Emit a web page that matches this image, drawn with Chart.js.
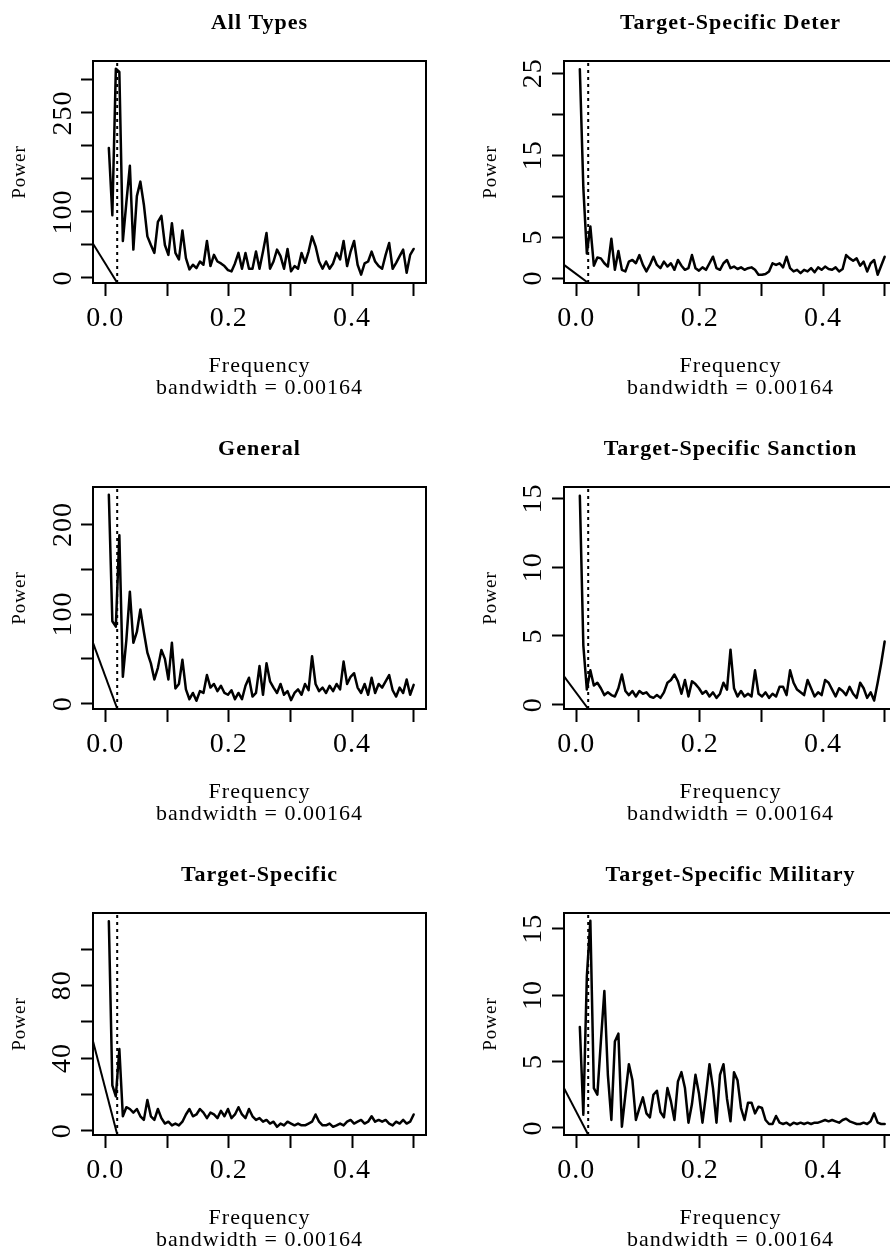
<!DOCTYPE html>
<html>
<head>
<meta charset="utf-8">
<script src="https://cdn.jsdelivr.net/npm/chart.js@4.4.1/dist/chart.umd.min.js"></script>
<style>
html, body { margin: 0; padding: 0; background: #ffffff; width: 890px; height: 1252px; overflow: hidden; }
#wrap { position: relative; width: 890px; height: 1252px; overflow: hidden; background: #ffffff; }
#wrap canvas { position: absolute; }
</style>
</head>
<body>
<div id="wrap"></div>
<script>
// ---------------- DATA ----------------
const N_OBS = 176; // bandwidth = sqrt(1/12)/N = 0.00164
const frequency = Array.from({ length: 88 }, (_, i) => (i + 1) / N_OBS);

const panelTitles = ['All Types', 'Target-Specific Deter', 'General', 'Target-Specific Sanction', 'Target-Specific', 'Target-Specific Military'];

const allTypes = [197, 95, 317, 312, 56, 114, 170, 43, 124, 146,
  111, 63, 50, 38, 85, 94, 50, 35, 83, 38,
  28, 72, 30, 13, 20, 15, 25, 20, 56, 18,
  35, 25, 22, 18, 12, 10, 22, 38, 14, 38,
  14, 14, 40, 14, 40, 68, 14, 25, 43, 33,
  14, 44, 10, 18, 14, 38, 23, 40, 63, 48,
  25, 14, 25, 14, 22, 38, 28, 56, 18, 40,
  56, 20, 5, 22, 25, 40, 25, 18, 14, 35,
  53, 14, 23, 33, 43, 8, 35, 44];

const targetDeter = [25.5, 11, 3.0, 6.3, 1.5, 2.5, 2.4, 1.8, 1.4, 4.8,
  1.0, 3.3, 1.0, 0.8, 2.0, 2.2, 1.8, 2.8, 1.6, 0.8,
  1.6, 2.6, 1.6, 1.2, 2.0, 1.4, 1.8, 1.0, 2.2, 1.5,
  1.0, 1.2, 2.8, 1.2, 0.9, 1.3, 1.0, 1.8, 2.6, 1.2,
  1.0, 1.8, 2.2, 1.2, 1.4, 1.1, 1.3, 1.0, 1.2, 1.3,
  1.0, 0.4, 0.4, 0.5, 0.8, 1.8, 1.6, 1.8, 1.3, 2.6,
  1.2, 0.8, 1.0, 0.6, 1.0, 0.8, 1.2, 0.7, 1.3, 1.0,
  1.4, 1.1, 1.0, 1.3, 0.8, 1.1, 2.8, 2.4, 2.1, 2.4,
  1.5, 2.0, 0.8, 1.8, 2.2, 0.4, 1.5, 2.6];

const general = [233, 92, 86, 188, 30, 71, 125, 68, 80, 105,
  80, 57, 45, 27, 40, 60, 50, 27, 68, 17,
  22, 49, 16, 5, 12, 3.3, 14, 12, 32, 18,
  22, 14, 20, 12, 10, 15, 5, 12, 5, 20,
  29, 8, 12, 42, 10, 45, 25, 18, 12, 22,
  10, 14, 4, 12, 16, 10, 22, 15, 53, 22,
  14, 18, 12, 20, 14, 22, 16, 47, 22, 30,
  34, 18, 12, 22, 10, 29, 12, 22, 18, 25,
  32, 15, 8, 18, 12, 27, 10, 21];

const targetSanction = [15.2, 4.3, 1.1, 2.5, 1.4, 1.6, 1.2, 0.7, 0.9, 0.7,
  0.6, 1.2, 2.2, 1.0, 0.7, 1.0, 0.6, 1.0, 0.8, 0.9,
  0.6, 0.5, 0.7, 0.5, 0.9, 1.6, 1.8, 2.2, 1.7, 0.8,
  1.8, 0.6, 1.7, 1.5, 1.2, 0.8, 1.0, 0.6, 0.9, 0.5,
  0.8, 1.6, 1.1, 4.0, 1.2, 0.6, 1.0, 0.6, 0.8, 0.6,
  2.5, 0.8, 0.6, 0.9, 0.5, 0.8, 0.6, 1.3, 1.3, 0.7,
  2.5, 1.6, 1.1, 0.9, 0.7, 1.8, 1.2, 0.6, 0.9, 0.7,
  1.8, 1.6, 1.1, 0.6, 1.2, 1.0, 0.7, 1.3, 0.8, 0.5,
  1.6, 1.2, 0.5, 0.9, 0.3, 1.6, 3.0, 4.6];

const targetSpecific = [115.3, 25, 19, 45, 8, 13, 12, 10, 12, 8,
  6, 17, 8, 6, 12, 7, 4, 5, 3, 4,
  3, 5, 9, 12, 8, 9, 12, 10, 7, 10,
  9, 7, 11, 8, 12, 7, 9, 13, 9, 7,
  12, 8, 6, 7, 5, 6, 4, 5, 2.2, 4,
  3, 5, 4, 3, 4, 3, 3, 4, 5, 9,
  5, 3, 3, 4, 2.2, 3, 4, 3, 5, 6,
  4, 5, 6, 4, 5, 8, 5, 6, 5, 6,
  4, 3, 5, 4, 6, 4, 5, 9];

const targetMilitary = [7.6, 1.0, 11.4, 15.6, 3.0, 2.5, 6.5, 10.3, 4.0, 0.6,
  6.5, 7.1, 0.1, 2.5, 4.8, 3.6, 0.6, 1.5, 2.3, 1.1,
  0.8, 2.5, 2.8, 1.2, 0.8, 3.0, 2.0, 0.6, 3.5, 4.2,
  3.0, 0.4, 1.8, 4.0, 2.6, 0.4, 2.5, 4.8, 3.0, 0.4,
  4.0, 4.8, 2.2, 0.5, 4.2, 3.6, 1.5, 0.6, 1.9, 1.9,
  1.1, 1.6, 1.5, 0.6, 0.3, 0.3, 0.9, 0.4, 0.3, 0.4,
  0.2, 0.4, 0.3, 0.4, 0.3, 0.4, 0.3, 0.4, 0.4, 0.5,
  0.6, 0.5, 0.6, 0.5, 0.4, 0.6, 0.7, 0.5, 0.4, 0.3,
  0.3, 0.4, 0.3, 0.5, 1.1, 0.4, 0.3, 0.3];

const spectra = [allTypes, targetDeter, general, targetSanction, targetSpecific, targetMilitary];

// axis ranges (data units)
const xRange = [-0.02, 0.52];
const yMinValues = [-7.6, -0.61, -5.9, -0.31, -2.3, -0.53];
const yMaxValues = [328.7, 26.5, 241.7, 15.83, 119.8, 16.18];

// tick values and labels
const xTickValues = [0, 0.1, 0.2, 0.3, 0.4, 0.5];
const xTickLabels = ['0.0', '', '0.2', '', '0.4', ''];
const yTickValues = [
  [0, 50, 100, 150, 200, 250, 300],
  [0, 5, 10, 15, 20, 25],
  [0, 50, 100, 150, 200],
  [0, 5, 10, 15],
  [0, 20, 40, 60, 80, 100],
  [0, 5, 10, 15]
];
const yTickLabels = [
  ['0', '', '100', '', '', '250', ''],
  ['0', '5', '', '15', '', '25'],
  ['0', '', '100', '', '200'],
  ['0', '5', '10', '15'],
  ['0', '', '40', '', '80', ''],
  ['0', '5', '10', '15']
];

// reference lines
const seasonalFreq = 1 / 52;                 // dotted vertical line
const diagonalStart = [52, 1.6, 68, 2.06, 49.3, 3.0]; // value at left edge
const diagonalEndFreq = 0.0195;

const xAxisTitle = ['Frequency', 'bandwidth = 0.00164'];
const yAxisTitle = 'Power';

// ---------------- LAYOUT ----------------
const SERIF = '"Liberation Serif", "Times New Roman", serif';
const BOX_LEFT = [93, 564];
const BOX_TOP = [61, 487, 913];
const BOX_W = 333, BOX_H = 222;
const Y_AXIS_W = 85, TOP_H = 61, BOTTOM_H = 116, PAD_RIGHT = 4;
const TICK_FONT = 28;
const LETTER_SPACING = 1; // px

const mctx = document.createElement('canvas').getContext('2d');
mctx.font = TICK_FONT + 'px ' + SERIF;
try { mctx.letterSpacing = LETTER_SPACING + 'px'; } catch (e) {}

const spacingPlugin = {
  id: 'spacing',
  beforeDraw(chart) { try { chart.ctx.letterSpacing = LETTER_SPACING + 'px'; } catch (e) {} }
};

const wrap = document.getElementById('wrap');

spectra.forEach((series, i) => {
  const col = i % 2, row = Math.floor(i / 2);
  const cv = document.createElement('canvas');
  const W = Y_AXIS_W + BOX_W + PAD_RIGHT;
  const H = TOP_H + BOX_H + BOTTOM_H;
  cv.width = W; cv.height = H;
  cv.style.left = (BOX_LEFT[col] - Y_AXIS_W) + 'px';
  cv.style.top = (BOX_TOP[row] - TOP_H) + 'px';
  cv.style.width = W + 'px'; cv.style.height = H + 'px';
  wrap.appendChild(cv);

  const yMin = yMinValues[i], yMax = yMaxValues[i];
  const widest = Math.max(...yTickLabels[i].map(l => l ? mctx.measureText(l).width : 0));
  const yPad = 19 - widest / 2;

  const specData = series.map((v, k) => ({ x: frequency[k], y: v }));
  const dotted = [{ x: seasonalFreq, y: yMin }, { x: seasonalFreq, y: yMax }];
  const diag = [{ x: xRange[0], y: diagonalStart[i] }, { x: diagonalEndFreq, y: yMin }];

  new Chart(cv, {
    type: 'line',
    plugins: [spacingPlugin],
    data: {
      datasets: [
        { data: dotted, borderColor: '#000', borderWidth: 2, borderDash: [3, 4], pointRadius: 0, fill: false, tension: 0, xAxisID: 'x', yAxisID: 'y' },
        { data: diag, borderColor: '#000', borderWidth: 2, pointRadius: 0, fill: false, tension: 0, xAxisID: 'x', yAxisID: 'y' },
        { data: specData, borderColor: '#000', borderWidth: 2.5, pointRadius: 0, fill: false, tension: 0, borderJoinStyle: 'round', borderCapStyle: 'round', xAxisID: 'x', yAxisID: 'y' }
      ]
    },
    options: {
      responsive: false,
      animation: false,
      devicePixelRatio: 1,
      events: [],
      layout: { padding: { left: 0, top: 0, bottom: 0, right: PAD_RIGHT } },
      plugins: { legend: { display: false }, tooltip: { enabled: false }, title: { display: false } },
      scales: {
        x: {
          type: 'linear', position: 'bottom', min: xRange[0], max: xRange[1],
          afterBuildTicks: s => { s.ticks = xTickValues.map(v => ({ value: v })); },
          afterFit: s => { s.height = BOTTOM_H; },
          ticks: { autoSkip: false, maxRotation: 0, minRotation: 0, color: '#000', padding: 9,
            font: { family: SERIF, size: TICK_FONT, lineHeight: 1 },
            callback: (v, idx) => xTickLabels[idx] },
          grid: { drawOnChartArea: false, drawTicks: true, tickLength: 13, tickWidth: 2, tickColor: '#000', color: '#000' },
          border: { display: true, color: '#000', width: 2 },
          title: { display: true, text: xAxisTitle, color: '#000', font: { family: SERIF, size: 22, lineHeight: 1 }, padding: { top: 0, bottom: 0 } }
        },
        x2: {
          type: 'linear', position: 'top', min: xRange[0], max: xRange[1],
          afterFit: s => { s.height = TOP_H; },
          ticks: { display: false },
          grid: { display: false, drawTicks: false, drawOnChartArea: false },
          border: { display: true, color: '#000', width: 2 },
          title: { display: true, text: panelTitles[i], color: '#000', font: { family: SERIF, size: 22, weight: 'bold', lineHeight: 1 }, padding: { top: 12, bottom: 0 } }
        },
        y: {
          type: 'linear', position: 'left', min: yMin, max: yMax,
          afterBuildTicks: s => { s.ticks = yTickValues[i].map(v => ({ value: v })); },
          afterFit: s => { s.width = Y_AXIS_W; },
          ticks: { autoSkip: false, minRotation: 90, maxRotation: 90, crossAlign: 'center', padding: yPad, color: '#000',
            font: { family: SERIF, size: TICK_FONT, lineHeight: 1 },
            callback: (v, idx) => yTickLabels[i][idx] },
          grid: { drawOnChartArea: false, drawTicks: true, tickLength: 12, tickWidth: 2, tickColor: '#000', color: '#000' },
          border: { display: true, color: '#000', width: 2 },
          title: { display: true, text: yAxisTitle, color: '#000', font: { family: SERIF, size: 19, lineHeight: 1 }, padding: { top: 3, bottom: 0 } }
        },
        y2: {
          type: 'linear', position: 'right', min: yMin, max: yMax,
          afterFit: s => { s.width = 0; },
          ticks: { display: false },
          grid: { display: false, drawTicks: false, drawOnChartArea: false },
          border: { display: true, color: '#000', width: 2 }
        }
      }
    }
  });
});
</script>
</body>
</html>
